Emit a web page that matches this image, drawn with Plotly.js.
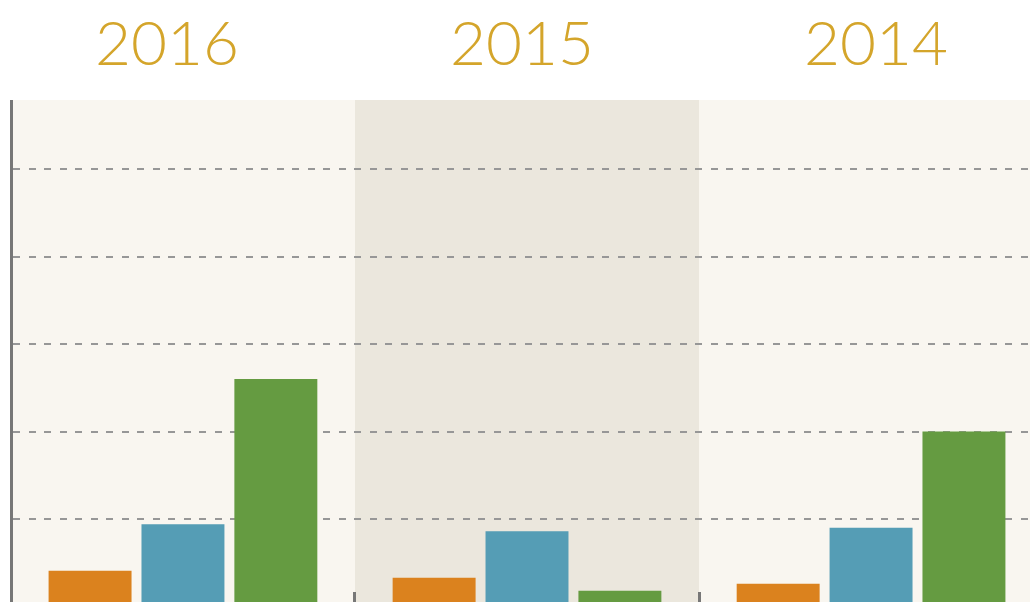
<!DOCTYPE html>
<html>
<head>
<meta charset="utf-8">
<script src="https://cdn.plot.ly/plotly-3.0.1.min.js"></script>
<style>
  html, body { margin: 0; padding: 0; background: #ffffff; }
  #chart { width: 1030px; height: 602px; }
</style>
</head>
<body>
<div id="chart"></div>
<script>
// Data
var years = ['2016', '2015', '2014'];
var seriesNames = ['Series 1', 'Series 2', 'Series 3'];
var orangeValues = [4.1, 3.3, 2.6];
var blueValues = [9.4, 8.6, 9.0];
var greenValues = [26.0, 1.8, 20.0];

var colors = ['#db821e', '#559db5', '#659b41'];
var allValues = [orangeValues, blueValues, greenValues];

var traces = allValues.map(function (vals, i) {
  return {
    type: 'bar',
    name: seriesNames[i],
    x: years,
    y: vals,
    marker: { color: colors[i], line: { width: 0 } },
    hoverinfo: 'x+y'
  };
});

var titleXs = [0.151, 0.5, 0.849];
var annotations = years.map(function (yr, i) {
  return {
    text: yr,
    xref: 'paper', yref: 'paper',
    x: titleXs[i], y: 1.118,
    xanchor: 'center', yanchor: 'middle',
    showarrow: false,
    font: { family: 'Lato, "Open Sans", sans-serif', size: 62, weight: 300, color: '#d4a52b' }
  };
});

var layout = {
  width: 1030,
  height: 602,
  margin: { l: 13, r: 0, t: 100, b: 0, pad: 0 },
  paper_bgcolor: '#ffffff',
  plot_bgcolor: '#f9f6f0',
  showlegend: false,
  barmode: 'group',
  bargap: 0.19,
  bargroupgap: 0.107,
  xaxis: {
    type: 'category',
    range: [-0.494, 2.462],
    showgrid: false,
    zeroline: false,
    showline: false,
    showticklabels: false,
    ticks: 'inside',
    tickson: 'boundaries',
    ticklen: 10,
    tickwidth: 3,
    tickcolor: '#777777',
    fixedrange: true
  },
  yaxis: {
    range: [0.514, 57.9],
    dtick: 10,
    tick0: 0,
    showgrid: true,
    gridcolor: '#979797',
    gridwidth: 2,
    griddash: '7px,8.5px',
    zeroline: false,
    showline: true,
    linecolor: '#777777',
    linewidth: 3,
    showticklabels: false,
    ticks: '',
    fixedrange: true
  },
  shapes: [{
    type: 'rect',
    xref: 'x', yref: 'paper',
    x0: 0.5, x1: 1.5, y0: 0, y1: 1,
    fillcolor: '#ebe7dd',
    line: { width: 0 },
    layer: 'below'
  }],
  annotations: annotations
};

Plotly.newPlot('chart', traces, layout, { displayModeBar: false, staticPlot: true });
</script>
</body>
</html>
